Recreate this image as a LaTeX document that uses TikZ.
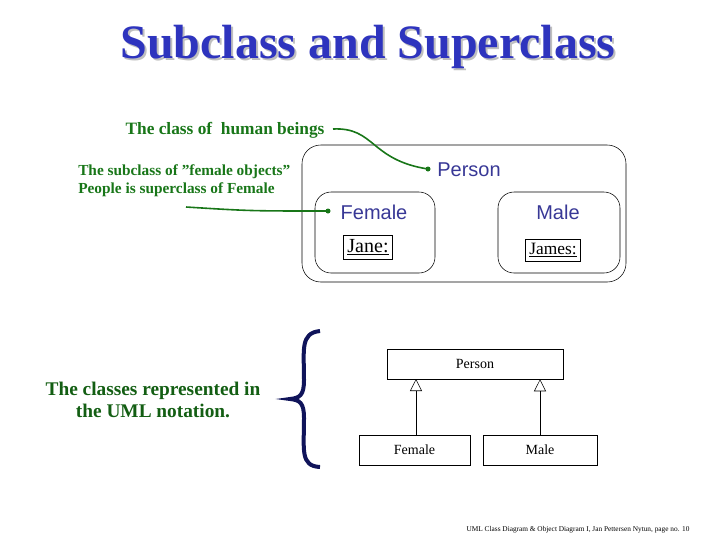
\documentclass[tikz,border=0pt]{standalone}
\usepackage{fontspec}
\setmainfont{Liberation Serif}
\newfontfamily\clsfont{Liberation Sans}
\usetikzlibrary{arrows.meta}
\definecolor{titleblue}{RGB}{46,52,190}
\definecolor{notegreen}{RGB}{24,118,24}
\definecolor{classblue}{RGB}{56,56,150}
\definecolor{bracenavy}{RGB}{16,20,90}
\tikzset{
  note/.style={text=notegreen,font=\bfseries\fontsize{13}{15}\selectfont,inner sep=0pt},
  cls/.style={text=classblue,font=\clsfont\fontsize{15}{18}\selectfont,inner sep=0pt},
  umlbox/.style={draw,minimum height=22.5pt,inner sep=0pt,font=\fontsize{10.5}{12}\selectfont},
  pointer/.style={notegreen,line width=1.2pt},
  gen/.style={-{Triangle[open,length=9pt,width=9pt]}}
}
\begin{document}
\begin{tikzpicture}[x=0.75pt,y=-0.75pt]
\useasboundingbox (0,0) rectangle (720,540);
% title
\node[text=black!25,font=\bfseries\fontsize{36}{40}\selectfont,inner sep=0pt] at (370,49) {Subclass and Superclass};
\node[text=titleblue,font=\bfseries\fontsize{36}{40}\selectfont,inner sep=0pt] (title) at (368,47) {Subclass and Superclass};

% object view
\draw[rounded corners=14pt] (302,145) rectangle (626,282);
\draw[rounded corners=12pt] (315,192) rectangle (435,273);
\draw[rounded corners=12pt] (498,192) rectangle (620,273);
\node[cls] (person) at (469,170) {Person};
\node[cls] (female) at (374,212) {Female};
\node[cls] (male) at (558,212) {Male};
\node[draw,inner sep=3pt,font=\fontsize{15}{17}\selectfont] (jane) at (368,247) {\underline{Jane:}};
\node[draw,inner sep=3pt,font=\fontsize{13}{15}\selectfont] (james) at (553,250) {\underline{James:}};

% notes
\node[note] (human) at (225,130) {The class of\ \ human beings};
\node[note,font=\bfseries\fontsize{11.5}{13.5}\selectfont,align=left,anchor=north west] (sub) at (78,164) {The subclass of ''female objects''\\People is superclass of Female};
\coordinate (hend) at (333,129);
\coordinate (pdot) at (428,169);
\coordinate (fdot) at (328,211);
\coordinate (subend) at (186,207);
\draw[pointer] (hend) .. controls (375,127) and (370,160) .. (pdot);
\draw[pointer] (subend) .. controls (250,211) .. (fdot);
\fill[notegreen] (pdot) circle (2.5);
\fill[notegreen] (fdot) circle (2.5);

% UML view
\draw[bracenavy,line width=3pt] (320,331) .. controls (300,333) and (304,350) .. (304,380)
  .. controls (304,395) and (300,398) .. (290,399)
  .. controls (300,400) and (304,403) .. (304,418)
  .. controls (304,450) and (300,466) .. (320,467);
\node[note,font=\bfseries\fontsize{14.5}{17}\selectfont,text=notegreen!80!black,align=center] (umltext) at (153,400) {The classes represented in\\the UML notation.};
\node[umlbox,minimum width=132pt] (uperson) at (475,364) {Person};
\node[umlbox,minimum width=83pt] (ufemale) at (414.5,450) {Female};
\node[umlbox,minimum width=85.5pt] (umale) at (540,450) {Male};
\coordinate (fl) at (416,435);
\coordinate (fu) at (416,379);
\draw[gen] (fl) -- (fu);
\draw[gen] (umale.north) -- (umale.north |- uperson.south);

% footer
\node[font=\fontsize{5.5}{6}\selectfont,inner sep=0pt] (footer) at (578,530) {UML Class Diagram \& Object Diagram I, Jan Pettersen Nytun, page no. 10};
\end{tikzpicture}
\end{document}
